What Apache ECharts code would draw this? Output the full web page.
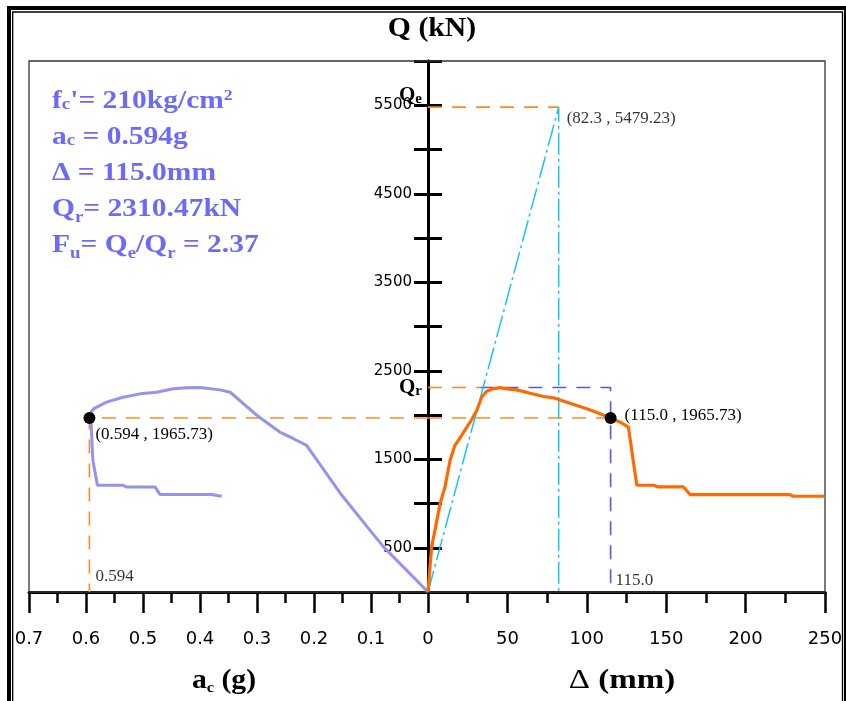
<!DOCTYPE html>
<html>
<head>
<meta charset="utf-8">
<script src="https://cdn.jsdelivr.net/npm/echarts@6/dist/echarts.min.js"></script>
<style>
html, body { margin: 0; padding: 0; background: #fff; }
#chart { width: 846px; height: 701px; }
</style>
</head>
<body>
<div id="chart"></div>
<script>
// Q vs a_c (left half, axis reversed)
var acVals = [0, 0.078, 0.102, 0.154, 0.213, 0.236, 0.260, 0.300, 0.347, 0.365, 0.400, 0.423, 0.447, 0.476, 0.505, 0.535, 0.564, 0.587, 0.593, 0.594, 0.591, 0.588, 0.580, 0.535, 0.529, 0.479, 0.470, 0.380, 0.362];
var acQ = [0, 510, 699, 1116, 1657, 1732, 1807, 1995, 2257, 2284, 2310, 2307, 2296, 2257, 2239, 2201, 2145, 2070, 2014, 1966, 1902, 1488, 1206, 1206, 1187, 1187, 1101, 1101, 1082];

// Q vs displacement (right half)
var dispVals = [0, 2.3, 4.4, 7.6, 10.7, 13.9, 17.0, 21.2, 26.5, 30.7, 33.8, 37.0, 41.1, 45.4, 49.6, 55.9, 64.3, 72.7, 79.0, 87.4, 100.0, 108.4, 115.0, 121.0, 126.2, 131.5, 142.0, 145.0, 160.9, 165.0, 228.0, 230.0, 250.0];
var dispQ = [0, 510, 699, 999, 1187, 1488, 1657, 1769, 1919, 2051, 2201, 2269, 2296, 2310, 2296, 2284, 2246, 2209, 2194, 2145, 2070, 2014, 1966, 1919, 1863, 1206, 1206, 1187, 1187, 1101, 1101, 1082, 1082];

// reference points
var dElastic = 82.3, qElastic = 5479.23;
var dUlt = 115.0, qUlt = 1965.73;
var acUlt = 0.594;
var qPeak = 2310.47;
var dPeakSplit = 33;

// tick labels
var qLabels = [500, 1500, 2500, 3500, 4500, 5500];

var chart = echarts.init(document.getElementById('chart'));

var serif = 'Liberation Serif';
var black = '#000';
var violet = '#6b6bf7';
var orangeDash = '#ff8a24';
var blueDash = '#5555f2';
var cyan = '#18c4f0';

function pairs(xs, ys) {
  return xs.map(function (x, i) { return [x, ys[i]]; });
}

function xAxisBase(grid) {
  return {
    type: 'value',
    gridIndex: grid,
    position: 'bottom',
    axisLine: { show: true, onZero: false, lineStyle: { color: black, width: 3 } },
    axisTick: { show: true, inside: false, length: 21, lineStyle: { color: black, width: 2.5 } },
    minorTick: { show: true, splitNumber: 2, length: 11, lineStyle: { color: black, width: 2.5 } },
    splitLine: { show: false },
    minorSplitLine: { show: false },
    axisLabel: { margin: 38, fontFamily: 'DejaVu Sans', fontSize: 18, color: black }
  };
}

var xLeft = xAxisBase(0);
xLeft.min = 0; xLeft.max = 0.7; xLeft.interval = 0.1; xLeft.inverse = true;
xLeft.axisLabel.formatter = function (v) { return v === 0 ? '' : v.toFixed(1); };

var xRight = xAxisBase(1);
xRight.min = 0; xRight.max = 250; xRight.interval = 50;

var yLeft = {
  type: 'value', gridIndex: 0, position: 'right', min: 0, max: 6000, interval: 500,
  axisLine: { show: true, lineStyle: { color: black, width: 3 } },
  axisTick: { show: true, inside: false, length: 14, lineStyle: { color: black, width: 3 } },
  axisLabel: { show: false },
  splitLine: { show: false }
};
var yRight = {
  type: 'value', gridIndex: 1, position: 'left', min: 0, max: 6000, interval: 500,
  axisLine: { show: true, lineStyle: { color: black, width: 3 } },
  axisTick: { show: true, inside: false, length: 14, lineStyle: { color: black, width: 3 } },
  axisLabel: {
    margin: 16, fontFamily: 'DejaVu Sans', fontSize: 15, color: black,
    formatter: function (v) { return qLabels.indexOf(v) >= 0 ? String(v) : ''; }
  },
  splitLine: { show: false }
};

function dashed(grid, data, color, type, width) {
  return {
    type: 'line', xAxisIndex: grid, yAxisIndex: grid, data: data,
    showSymbol: false, silent: true, animation: false, z: 3,
    lineStyle: { color: color, width: width || 1.6, type: type || [14, 10] }
  };
}

var ptLabel = { fontFamily: serif, fontSize: 17, color: black };

// rich text pieces: main, small-at-baseline, subscript, superscript
function richSet(color, size) {
  return {
    b: { fontFamily: serif, fontWeight: 'bold', fontSize: size, lineHeight: 36, fill: color },
    c: { fontFamily: serif, fontWeight: 'bold', fontSize: 16, verticalAlign: 'bottom', padding: [0, 0, 7, 0], fill: color },
    s: { fontFamily: serif, fontWeight: 'bold', fontSize: 16, verticalAlign: 'bottom', padding: [0, 0, 2.5, 0], fill: color },
    p: { fontFamily: serif, fontWeight: 'bold', fontSize: 15, verticalAlign: 'top', padding: [5, 0, 0, 0], fill: color }
  };
}

var option = {
  animation: false,
  grid: [
    { left: 29, top: 61, width: 399, height: 531 },
    { left: 428, top: 61, width: 397, height: 531 }
  ],
  xAxis: [xLeft, xRight],
  yAxis: [yLeft, yRight],
  series: [
    dashed(1, [[0, qElastic], [dElastic, qElastic]], orangeDash),
    dashed(1, [[0, qPeak], [dPeakSplit, qPeak]], orangeDash),
    dashed(1, [[dPeakSplit, qPeak], [dUlt, qPeak], [dUlt, 0]], blueDash),
    dashed(1, [[0, qUlt], [dUlt, qUlt]], orangeDash),
    dashed(0, [[0, qUlt], [acUlt, qUlt], [acUlt, 0]], orangeDash),
    dashed(1, [[0, 0], [dElastic, qElastic], [dElastic, 0]], cyan, [22, 4, 3, 4], 1.5),
    {
      type: 'line', xAxisIndex: 0, yAxisIndex: 0, data: pairs(acVals, acQ),
      showSymbol: false, z: 4, lineStyle: { color: '#9494f0', width: 3 }
    },
    {
      type: 'line', xAxisIndex: 1, yAxisIndex: 1, data: pairs(dispVals, dispQ),
      showSymbol: false, z: 4, lineStyle: { color: '#ff6a00', width: 3.2 }
    },
    {
      type: 'scatter', xAxisIndex: 0, yAxisIndex: 0, symbolSize: 12, z: 6,
      itemStyle: { color: black, opacity: 1 },
      data: [{
        value: [acUlt, qUlt],
        label: { show: true, position: 'right', offset: [-5, 16], formatter: '(0.594 , 1965.73)' }
      }],
      label: ptLabel
    },
    {
      type: 'scatter', xAxisIndex: 1, yAxisIndex: 1, symbolSize: 12, z: 6,
      itemStyle: { color: black, opacity: 1 },
      data: [{
        value: [dUlt, qUlt],
        label: { show: true, position: 'right', offset: [3, -3], formatter: '(115.0 , 1965.73)' }
      }],
      label: ptLabel
    },
    {
      type: 'scatter', xAxisIndex: 1, yAxisIndex: 1, symbolSize: 0, z: 6,
      data: [
        { value: [dElastic, qElastic], label: { show: true, position: 'right', offset: [3, 11], formatter: '(82.3 , 5479.23)' } },
        { value: [dUlt, 0], label: { show: true, position: 'right', offset: [0, -11], formatter: '115.0' } }
      ],
      label: ptLabel
    },
    {
      type: 'scatter', xAxisIndex: 0, yAxisIndex: 0, symbolSize: 0, z: 6,
      data: [
        { value: [acUlt, 0], label: { show: true, position: 'right', offset: [1, -15], formatter: '0.594' } }
      ],
      label: ptLabel
    }
  ],
  graphic: [
    { type: 'rect', z: 1, silent: true, shape: { x: 29, y: 61, width: 796, height: 531 },
      style: { fill: 'none', stroke: '#333', lineWidth: 1.3 } },
    { type: 'rect', z: 100, silent: true, shape: { x: 9, y: 8, width: 837, height: 800 },
      style: { fill: 'none', stroke: black, lineWidth: 4 } },
    { type: 'rect', z: 100, silent: true, shape: { x: 12.7, y: 12, width: 829.8, height: 800 },
      style: { fill: 'none', stroke: black, lineWidth: 1.3 } },
    { type: 'text', z: 50, x: 432, y: 29, scaleX: 1.1, style: {
        text: 'Q (kN)', font: 'bold 27px "Liberation Serif"', fill: black,
        textAlign: 'center', textVerticalAlign: 'middle' } },
    { type: 'text', z: 50, x: 399, y: 85, style: {
        text: '{q|Q}{s|e}', textAlign: 'left', textVerticalAlign: 'top',
        rich: {
          q: { fontFamily: serif, fontWeight: 'bold', fontSize: 21, lineHeight: 22, fill: black },
          s: { fontFamily: serif, fontWeight: 'bold', fontSize: 15, verticalAlign: 'bottom', fill: black }
        } } },
    { type: 'text', z: 50, x: 399, y: 377, style: {
        text: '{q|Q}{s|r}', textAlign: 'left', textVerticalAlign: 'top',
        rich: {
          q: { fontFamily: serif, fontWeight: 'bold', fontSize: 21, lineHeight: 22, fill: black },
          s: { fontFamily: serif, fontWeight: 'bold', fontSize: 15, verticalAlign: 'bottom', fill: black }
        } } },
    { type: 'text', z: 50, x: 52, y: 84, scaleX: 1.18, style: {
        text: [
          '{b|f}{c|c}{b|\'= 210kg/cm}{p|2}',
          '{b|a}{c|c}{b| = 0.594g}',
          '{b|\u0394 = 115.0mm}',
          '{b|Q}{s|r}{b|= 2310.47kN}',
          '{b|F}{s|u}{b|= Q}{s|e}{b|/Q}{s|r}{b| = 2.37}'
        ].join('\n'),
        textAlign: 'left', textVerticalAlign: 'top',
        rich: richSet(violet, 25) } },
    { type: 'text', z: 50, x: 224, y: 681, scaleX: 1.1, style: {
        text: '{b|a}{s|c}{b| (g)}', textAlign: 'center', textVerticalAlign: 'middle',
        rich: {
          b: { fontFamily: serif, fontWeight: 'bold', fontSize: 27, lineHeight: 32, fill: black },
          s: { fontFamily: serif, fontWeight: 'bold', fontSize: 15, verticalAlign: 'bottom', padding: [0, 0, 1, 0], fill: black }
        } } },
    { type: 'text', z: 50, x: 622, y: 681, scaleX: 1.18, style: {
        text: '{d|\u0394}{b| (mm)}', textAlign: 'center', textVerticalAlign: 'middle',
        rich: {
          d: { fontFamily: serif, fontSize: 28, lineHeight: 32, fill: black },
          b: { fontFamily: serif, fontWeight: 'bold', fontSize: 28, lineHeight: 32, fill: black }
        } } }
  ]
};

chart.setOption(option);
</script>
</body>
</html>
